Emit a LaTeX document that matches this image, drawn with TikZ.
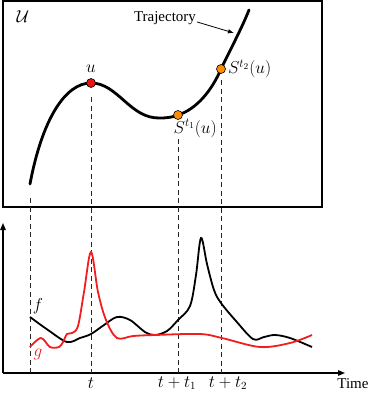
\documentclass[tikz,border=0pt]{standalone}
\usepackage{fontspec}
\usepackage{tikz}
\usetikzlibrary{arrows.meta, positioning, calc}
\newfontfamily\wordfont{Liberation Serif}
\definecolor{dotorange}{RGB}{255,140,0}
\definecolor{dotred}{RGB}{235,20,20}
\definecolor{sigred}{RGB}{240,30,30}

\begin{document}
\begin{tikzpicture}[
    x=1pt, y=-1pt,
    lbl/.style={
        font=\fontsize{16}{19}\selectfont, inner sep=1pt
    },
    biglbl/.style={
        font=\fontsize{18}{21}\selectfont, inner sep=1pt
    },
    word/.style={
        font=\wordfont\fontsize{15}{18}\selectfont, inner sep=1pt
    },
    frame/.style={
        draw, line width=1.8pt
    },
    traj/.style={
        line width=2.8pt, line cap=round
    },
    sig/.style={
        line width=1.8pt
    },
    guide/.style={
        dash pattern=on 5pt off 3.5pt, line width=1pt, black!85
    },
    axis/.style={
        -{Triangle[length=7pt, width=5.5pt]}, line width=1.3pt
    },
    pt/.style={
        circle, draw, line width=0.6pt,
        minimum size=9pt, inner sep=0pt
    }
]
\useasboundingbox (0,0) rectangle (374,394);

% state space
\draw[frame] (3,1) rectangle (322,207);
\node[biglbl] (U) at (23,17) {$\mathcal{U}$};

\coordinate (start) at (30,184);
\coordinate (cu) at (91,83);
\coordinate (cs1) at (178,115);
\coordinate (cs2) at (221,69);
\coordinate (top) at (249,10);

\draw[traj] (start) .. controls (42,120) and (65,83) .. (cu)
    .. controls (118,83) and (130,119) .. (160,118)
    .. controls (168,118) and (173,117) .. (cs1)
    .. controls (197,109) and (212,90) .. (cs2)
    .. controls (230,50) and (241,30) .. (top);

\node[pt, fill=dotred] (u) at (cu) {};
\node[pt, fill=dotorange] (s1) at (cs1) {};
\node[pt, fill=dotorange] (s2) at (cs2) {};

\node[lbl, above=5pt of u] (ulab) {$u$};
\node[biglbl, right=1pt of s2] (s2lab) {$S^{t_2}(u)$};
\node[biglbl, below right=0pt and -9pt of s1] (s1lab) {$S^{t_1}(u)$};

\node[word] (trajlab) at (165,18) {Trajectory};
\coordinate (tip) at (234,33);
\draw[-{Latex[length=6pt, width=4.5pt]}, line width=0.8pt]
    ([yshift=-4pt]trajlab.east) -- (tip);

% time axis
\coordinate (o) at (3,373);
\coordinate (xend) at (345,373);
\coordinate (yend) at (3,223);
\draw[axis] (o) -- (yend);
\draw[axis] (o) -- (xend);
\node[word] (time) at (353,384) {Time};

\coordinate (d0) at (30,198);
\draw[guide] (d0) -- (d0 |- o);
\draw[guide] ([yshift=-14pt]u.center) -- (u |- o);
\draw[guide] (s1 |- s1lab.south) -- (s1 |- o);
\draw[guide] ([yshift=-11pt]s2.center) -- (s2 |- o);

\node[lbl] (tt) at (91,383) {$t$};
\node[lbl] (tt1) at (177,383) {$t+t_1$};
\node[lbl] (tt2) at (228,383) {$t+t_2$};

% signals
\draw[sig] plot[smooth, tension=0.55] coordinates {
    (30,317) (48,330) (67,342) (80,338) (91,334) (104,325) (117,317)
    (130,320) (145,332) (155,335) (167,331) (178,320) (190,306)
    (196,275) (201,238) (207,264) (214,290) (221,303) (236,321)
    (253,339) (264,337) (275,335) (290,338) (312,347)};
\draw[sig, sigred] plot[smooth, tension=0.55] coordinates {
    (30,347) (41,338) (50,347) (59,347) (63,342) (67,334) (72,333)
    (78,326) (84,292) (91,252) (98,292) (106,320) (117,338)
    (133,336) (155,335) (200,334) (222,338) (260,347) (290,343)
    (312,335)};

\node[lbl] (flab) at (38,306) {$f$};
\node[lbl, text=sigred] (glab) at (38,354) {$g$};

\end{tikzpicture}
\end{document}
